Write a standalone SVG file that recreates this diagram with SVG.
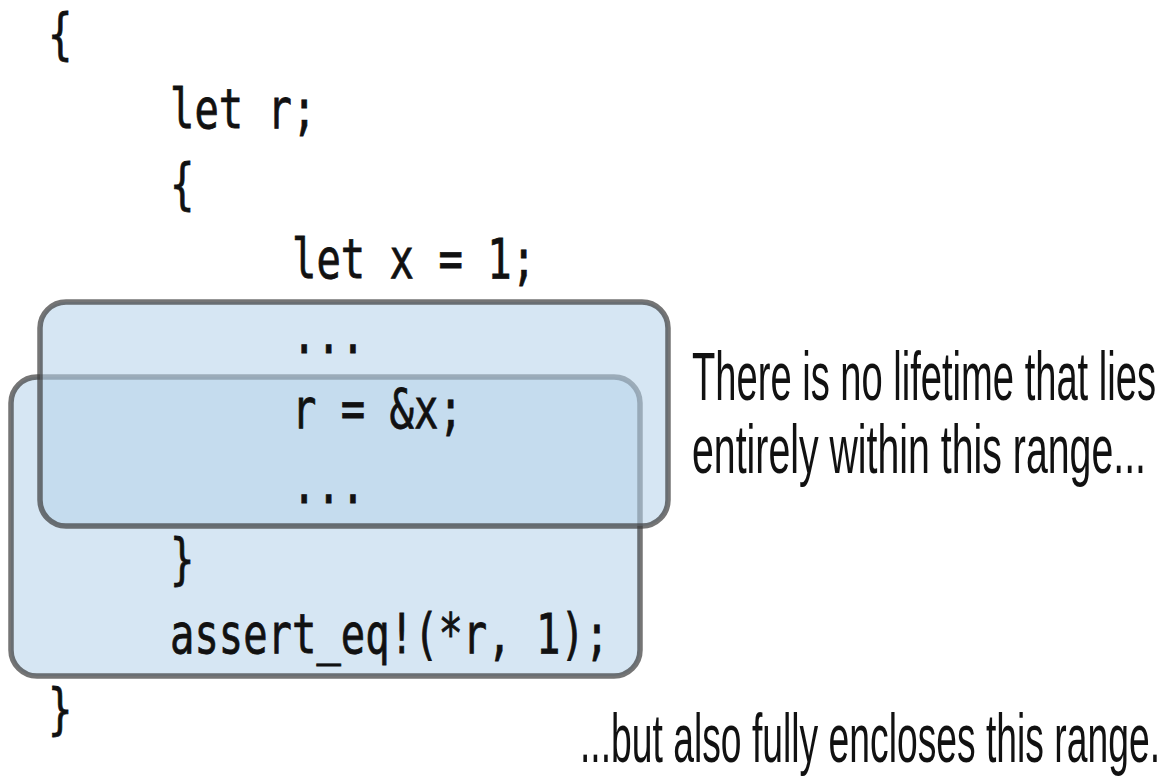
<svg xmlns="http://www.w3.org/2000/svg" width="1169" height="778" viewBox="0 0 1169 778">
  <style>
    .range { fill: rgb(185,212,235); fill-opacity: 0.585; stroke: #3a3a3a; stroke-opacity: 0.7; stroke-width: 5.5; }
    .code { font-family: "DejaVu Sans Mono", "Liberation Mono", monospace; font-size: 56px; fill: #111; stroke: #111; stroke-width: 0.8px; }
    .note { font-family: "Liberation Sans", Arial, sans-serif; font-size: 68px; fill: #111; }
  </style>
  <rect width="1169" height="778" fill="#ffffff"/>
  <g id="range-outer">
    <rect class="range" x="11" y="377" width="629" height="299" rx="26" ry="26"/>
  </g>
  <g id="range-inner">
    <rect class="range" x="40" y="302" width="628" height="224" rx="26" ry="26"/>
  </g>
  <g id="connectors"></g>
  <g id="code">
    <text class="code" x="48" y="53" textLength="24.4" lengthAdjust="spacingAndGlyphs">{</text>
    <text class="code" x="170" y="128" textLength="146.4" lengthAdjust="spacingAndGlyphs">let r;</text>
    <text class="code" x="170" y="203" textLength="24.4" lengthAdjust="spacingAndGlyphs">{</text>
    <text class="code" x="292" y="278" textLength="244" lengthAdjust="spacingAndGlyphs">let x = 1;</text>
    <text class="code" x="292" y="353" textLength="73.2" lengthAdjust="spacingAndGlyphs">...</text>
    <text class="code" x="292" y="428" textLength="170.8" lengthAdjust="spacingAndGlyphs">r = &amp;x;</text>
    <text class="code" x="292" y="503" textLength="73.2" lengthAdjust="spacingAndGlyphs">...</text>
    <text class="code" x="170" y="578" textLength="24.4" lengthAdjust="spacingAndGlyphs">}</text>
    <text class="code" x="170" y="653" textLength="439.2" lengthAdjust="spacingAndGlyphs">assert_eq!(*r, 1);</text>
    <text class="code" x="48" y="728" textLength="24.4" lengthAdjust="spacingAndGlyphs">}</text>
  </g>
  <g id="labels">
    <text class="note" transform="translate(692,400) scale(0.56,1)" x="0" y="0" textLength="828.6" lengthAdjust="spacingAndGlyphs">There is no lifetime that lies</text>
    <text class="note" transform="translate(692,473) scale(0.578,1)" x="0" y="0" textLength="785.5" lengthAdjust="spacingAndGlyphs">entirely within this range...</text>
    <text class="note" transform="translate(580,762) scale(0.548,1)" x="0" y="0" textLength="1058.4" lengthAdjust="spacingAndGlyphs">...but also fully encloses this range.</text>
  </g>
</svg>
